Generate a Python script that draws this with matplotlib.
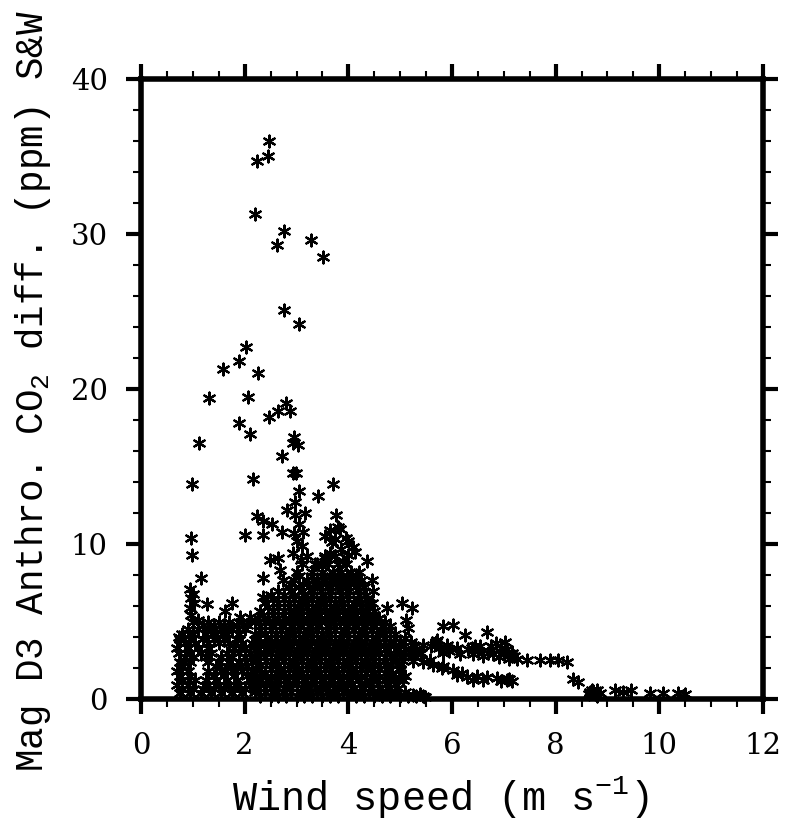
import matplotlib
matplotlib.use("Agg")
import matplotlib.pyplot as plt
from matplotlib.ticker import MultipleLocator

# Wind speed (m/s) and CO2 difference (ppm)

# isolated high values
wind_high = [2.47, 2.45, 2.24, 2.20, 2.76, 2.62, 3.28, 3.51, 2.76, 3.05, 2.03, 1.89, 1.58,
             2.26, 1.31, 2.06, 2.80, 2.64, 2.87, 2.47, 1.89, 2.10, 2.95, 3.03, 2.93, 1.12,
             2.72, 2.93, 2.99, 0.98, 2.16, 3.70, 3.05, 3.41, 2.97, 3.76, 2.24, 2.82, 3.16]
co2_high = [36.0, 35.0, 34.7, 31.3, 30.2, 29.3, 29.6, 28.5, 25.1, 24.2, 22.7, 21.8, 21.3,
            21.0, 19.4, 19.5, 19.1, 18.6, 18.6, 18.2, 17.8, 17.1, 16.9, 16.4, 16.5, 16.5,
            15.7, 14.6, 14.6, 13.9, 14.2, 13.9, 13.4, 13.1, 12.7, 11.9, 11.8, 12.2, 12.0]

# scattered points around the edge of the main cloud
wind_edge = [0.96, 0.98, 1.16, 2.01, 2.35, 2.53, 2.35, 2.72, 2.49, 2.64, 2.68, 2.74, 2.35,
             2.35, 2.95, 2.93, 3.11, 3.13, 2.97, 3.05, 3.00, 3.08, 3.36, 3.55, 3.65, 3.65,
             3.80, 3.84, 3.96, 3.99, 4.09, 4.13, 3.69, 3.65, 3.49, 3.55, 3.75, 3.85, 3.90,
             4.00, 4.36, 4.46, 4.48, 4.40, 4.50, 4.75, 5.04, 5.23, 5.11, 5.15, 5.69, 5.83,
             6.02, 5.83, 5.58, 5.81, 5.38, 0.73, 0.73, 0.96, 1.10, 1.62, 1.76, 1.27, 1.91,
             2.10, 0.95, 1.00, 0.97, 1.02, 0.95]
co2_edge = [10.4, 9.3, 7.8, 10.6, 11.5, 11.3, 10.6, 10.8, 9.0, 9.1, 8.3, 7.7, 7.8,
            6.6, 10.7, 9.4, 9.9, 10.8, 11.9, 11.3, 10.2, 9.0, 8.7, 9.1, 9.4, 10.9,
            11.1, 11.0, 10.4, 10.2, 9.8, 9.5, 10.1, 9.3, 8.6, 10.5, 10.3, 9.7, 8.9,
            9.3, 8.9, 7.7, 7.0, 6.2, 5.3, 5.9, 6.2, 5.9, 5.1, 4.6, 3.7, 4.7,
            4.8, 3.0, 2.5, 2.0, 0.3, 4.0, 3.0, 5.4, 5.1, 5.7, 6.2, 6.1, 5.3,
            5.3, 7.1, 6.8, 6.5, 6.2, 5.9]

# low-wind cluster, one row per CO2 level
left_levels = [0.4, 0.65, 0.9, 1.2, 1.5, 1.8, 2.1, 2.4, 2.7, 3.0, 3.3, 3.6, 3.9, 4.2,
               4.5, 4.8, 5.0]
left_rows = [
    [0.75, 0.95, 1.15, 1.35, 1.55, 1.75, 1.95],
    [0.80, 1.00, 1.20, 1.40, 1.60, 1.80, 2.00, 2.20],
    [0.70, 0.90, 1.30, 1.50, 1.70, 1.90, 2.10],
    [0.80, 1.05, 1.25, 1.45, 1.65, 1.85, 2.15],
    [0.75, 0.95, 1.40, 1.60, 1.80, 2.05],
    [0.70, 0.90, 1.30, 1.55, 1.75, 1.95, 2.15],
    [0.80, 1.45, 1.65, 1.85, 2.05],
    [0.75, 0.95, 1.30, 1.50, 1.70, 1.90, 2.15],
    [0.85, 1.00, 1.25, 1.55, 1.75, 2.00],
    [0.95, 1.15, 1.35, 1.65, 1.90, 2.10],
    [0.70, 0.90, 1.10, 1.30, 1.80, 2.00],
    [0.85, 1.05, 1.30, 1.50, 1.70, 1.95, 2.15],
    [0.75, 0.95, 1.20, 1.40, 1.60, 1.85],
    [0.80, 1.00, 1.25, 1.45, 1.65, 1.90],
    [0.90, 1.10, 1.35, 1.55, 1.75, 2.00],
    [1.20, 1.40, 1.60, 1.85, 2.05],
    [1.00, 1.30, 1.50, 1.70, 1.95],
]

# dense core of the cloud, one row per CO2 level
core_levels = [0.2, 0.45, 0.7, 0.95, 1.2, 1.45, 1.7, 1.95, 2.2, 2.45, 2.7, 2.95, 3.2,
               3.45, 3.7, 3.95, 4.2, 4.45, 4.7, 4.95, 5.2, 5.45, 5.7, 5.95, 6.2, 6.45,
               6.7, 6.95, 7.2, 7.45, 7.7, 7.95, 8.2, 8.7, 9.2]
core_rows = [
    [2.30, 2.50, 2.65, 2.80, 3.00, 3.15, 3.30, 3.50, 3.65, 3.80, 4.00, 4.15, 4.30, 4.50,
     4.65, 4.80, 5.00, 5.15, 5.30, 5.45],
    [2.20, 2.40, 2.58, 2.73, 2.90, 3.08, 3.23, 3.40, 3.58, 3.73, 3.90, 4.08, 4.23, 4.40,
     4.58, 4.73, 4.90, 5.10],
    [2.20, 2.40, 2.55, 2.75, 2.90, 3.10, 3.25, 3.45, 3.60, 3.80, 3.95, 4.10, 4.30, 4.45,
     4.60, 4.80, 4.95],
    [2.30, 2.48, 2.65, 2.83, 3.00, 3.18, 3.35, 3.53, 3.70, 3.88, 4.05, 4.23, 4.40, 4.58,
     4.75, 4.90],
    [2.25, 2.45, 2.60, 2.80, 2.95, 3.15, 3.30, 3.50, 3.65, 3.85, 4.00, 4.20, 4.35, 4.55,
     4.70, 4.90],
    [2.33, 2.50, 2.68, 2.85, 3.03, 3.20, 3.38, 3.55, 3.73, 3.90, 4.08, 4.25, 4.43, 4.60,
     4.80, 4.98],
    [2.20, 2.40, 2.60, 2.75, 2.95, 3.10, 3.30, 3.45, 3.65, 3.80, 4.00, 4.15, 4.35, 4.50,
     4.70, 4.85],
    [2.30, 2.50, 2.68, 2.85, 3.03, 3.20, 3.38, 3.55, 3.73, 3.90, 4.08, 4.25, 4.43, 4.60,
     4.78, 5.00],
    [2.30, 2.50, 2.65, 2.85, 3.00, 3.20, 3.35, 3.55, 3.70, 3.90, 4.05, 4.25, 4.40, 4.60,
     4.75, 4.95],
    [2.25, 2.42, 2.58, 2.75, 2.93, 3.10, 3.28, 3.45, 3.63, 3.80, 3.98, 4.15, 4.33, 4.50,
     4.68, 4.85, 5.05, 5.25],
    [2.20, 2.40, 2.60, 2.75, 2.95, 3.10, 3.30, 3.45, 3.65, 3.80, 4.00, 4.15, 4.35, 4.50,
     4.70, 4.90, 5.05],
    [2.30, 2.50, 2.68, 2.85, 3.03, 3.20, 3.38, 3.55, 3.73, 3.90, 4.08, 4.25, 4.43, 4.60,
     4.80, 5.00, 5.20, 5.40],
    [2.25, 2.45, 2.65, 2.80, 3.00, 3.15, 3.35, 3.50, 3.70, 3.85, 4.05, 4.20, 4.40, 4.55,
     4.75, 4.95, 5.10, 5.30],
    [2.20, 2.38, 2.55, 2.73, 2.90, 3.08, 3.25, 3.43, 3.60, 3.78, 3.95, 4.13, 4.30, 4.48,
     4.68, 4.88, 5.08, 5.28],
    [2.30, 2.50, 2.70, 2.85, 3.05, 3.20, 3.40, 3.55, 3.75, 3.90, 4.10, 4.25, 4.45, 4.60,
     4.80, 5.00, 5.20],
    [2.25, 2.43, 2.60, 2.78, 2.95, 3.13, 3.30, 3.48, 3.65, 3.83, 4.00, 4.18, 4.35, 4.53,
     4.70, 4.90, 5.10],
    [2.20, 2.40, 2.60, 2.80, 2.95, 3.15, 3.30, 3.50, 3.65, 3.85, 4.00, 4.20, 4.35, 4.55,
     4.70, 4.90],
    [2.30, 2.50, 2.70, 2.88, 3.05, 3.23, 3.40, 3.58, 3.75, 3.93, 4.10, 4.28, 4.45, 4.63,
     4.80],
    [2.30, 2.50, 2.70, 2.90, 3.05, 3.25, 3.40, 3.60, 3.75, 3.95, 4.10, 4.30, 4.45, 4.65,
     4.80],
    [2.20, 2.40, 2.58, 2.78, 2.95, 3.13, 3.30, 3.48, 3.65, 3.83, 4.00, 4.18, 4.35, 4.53,
     4.70],
    [2.25, 2.45, 2.65, 2.85, 3.00, 3.20, 3.35, 3.55, 3.70, 3.90, 4.05, 4.25, 4.40, 4.60],
    [2.35, 2.55, 2.73, 2.90, 3.08, 3.25, 3.43, 3.60, 3.78, 3.95, 4.13, 4.30, 4.48],
    [2.30, 2.55, 2.75, 2.95, 3.10, 3.30, 3.45, 3.65, 3.80, 4.00, 4.15, 4.35, 4.50],
    [2.45, 2.65, 2.85, 3.03, 3.20, 3.38, 3.55, 3.73, 3.90, 4.08, 4.25, 4.40],
    [2.40, 2.65, 2.85, 3.05, 3.20, 3.40, 3.55, 3.75, 3.90, 4.10, 4.25, 4.45],
    [2.55, 2.75, 2.95, 3.13, 3.30, 3.48, 3.65, 3.83, 4.00, 4.18, 4.35],
    [2.50, 2.75, 2.95, 3.15, 3.30, 3.50, 3.65, 3.85, 4.00, 4.20, 4.35],
    [2.65, 2.90, 3.10, 3.30, 3.48, 3.65, 3.83, 4.00, 4.20],
    [2.85, 3.05, 3.25, 3.45, 3.60, 3.80, 3.95, 4.15, 4.30],
    [2.90, 3.13, 3.33, 3.50, 3.68, 3.85, 4.03, 4.20],
    [2.95, 3.20, 3.40, 3.55, 3.75, 3.90, 4.10, 4.25],
    [3.05, 3.30, 3.50, 3.65, 3.80, 3.98, 4.15],
    [3.00, 3.30, 3.50, 3.70, 3.85, 4.05, 4.20],
    [3.10, 3.40, 3.60, 3.80, 3.95],
    [3.20, 3.55, 3.75],
]

# upper trail towards high wind
wind_trail_up = [5.44, 5.25, 5.60, 5.71, 5.75, 5.90, 5.95, 6.10, 6.15, 6.25, 6.30, 6.39, 6.40,
                 6.45, 6.50, 6.54, 6.60, 6.68, 6.70, 6.75, 6.80, 6.85, 6.90, 6.95, 7.00,
                 7.02, 7.06, 7.10, 7.15, 7.20, 7.25, 7.45, 7.70, 7.89, 8.05, 8.22]
co2_trail_up = [3.5, 3.0, 3.4, 3.8, 3.3, 3.5, 3.1, 3.3, 2.9, 4.1, 3.2, 3.3, 2.9,
                3.4, 3.1, 3.4, 2.8, 4.3, 3.0, 3.4, 2.9, 3.6, 2.7, 3.3, 2.9,
                3.7, 3.2, 2.6, 3.0, 2.8, 2.6, 2.5, 2.5, 2.5, 2.5, 2.4]

# lower trail
wind_trail_low = [5.00, 5.05, 5.10, 5.25, 5.44, 5.63, 5.83, 6.02, 6.10, 6.19, 6.29, 6.40,
                  6.48, 6.60, 6.68, 6.87, 6.95, 7.06, 7.10, 7.16]
co2_trail_low = [1.9, 1.2, 1.5, 2.8, 2.4, 2.2, 2.1, 1.9, 1.55, 1.7, 1.4, 1.25,
                 1.5, 1.2, 1.4, 1.35, 1.15, 1.2, 1.3, 1.15]

# near-zero points at the far end
wind_tail = [4.60, 4.80, 5.00, 5.25, 5.48, 8.34, 8.43, 8.65, 8.66, 8.70, 8.72, 8.75, 8.80,
             8.80, 8.85, 9.15, 9.30, 9.45, 9.82, 10.07, 10.36, 10.50]
co2_tail = [0.35, 0.3, 0.26, 0.26, 0.13, 1.3, 1.1, 0.3, 0.45, 0.6, 0.5, 0.35, 0.58,
            0.2, 0.4, 0.55, 0.45, 0.55, 0.4, 0.4, 0.4, 0.35]


def flatten_rows(levels, rows):
    xs, ys = [], []
    for level, row in zip(levels, rows):
        xs.extend(row)
        ys.extend([level] * len(row))
    return xs, ys


wind_left, co2_left = flatten_rows(left_levels, left_rows)
wind_core, co2_core = flatten_rows(core_levels, core_rows)

wind_all = wind_high + wind_edge + wind_left + wind_core + wind_trail_up + wind_trail_low + wind_tail
co2_all = co2_high + co2_edge + co2_left + co2_core + co2_trail_up + co2_trail_low + co2_tail

plt.rcParams['mathtext.fontset'] = 'custom'
plt.rcParams['mathtext.rm'] = 'Liberation Mono'
plt.rcParams['mathtext.it'] = 'Liberation Mono'

fig = plt.figure(figsize=(8.03, 8.30), dpi=100)
ax = fig.add_axes([141 / 803, 1 - 699 / 830, 622 / 803, 620 / 830])

ax.scatter(wind_all, co2_all, marker=(6, 2, 0), s=72, c='black', linewidths=1.6,
           clip_on=False, zorder=2)

ax.set_xlim(0, 12)
ax.set_ylim(0, 40)
ax.xaxis.set_major_locator(MultipleLocator(2))
ax.xaxis.set_minor_locator(MultipleLocator(0.5))
ax.yaxis.set_major_locator(MultipleLocator(10))
ax.yaxis.set_minor_locator(MultipleLocator(2))

for spine in ax.spines.values():
    spine.set_linewidth(4)
ax.tick_params(which='both', direction='out', top=True, right=True)
ax.tick_params(which='major', length=11, width=3, pad=13)
ax.tick_params(which='minor', length=6, width=1.5)
for lab in ax.get_xticklabels() + ax.get_yticklabels():
    lab.set_fontfamily('DejaVu Serif')
    lab.set_fontsize(21)

fig.text(440 / 803, 1 - 798 / 830, r'Wind speed (m s$^{-1}$)', family='Liberation Mono',
         fontsize=29, ha='center', va='center')
fig.text(33 / 803, 1 - 391 / 830, r'Mag D3 Anthro. CO$_2$ diff. (ppm) S&W',
         family='Liberation Mono', fontsize=27, rotation=90, ha='center', va='center')

fig.savefig('out.png', dpi=100)
